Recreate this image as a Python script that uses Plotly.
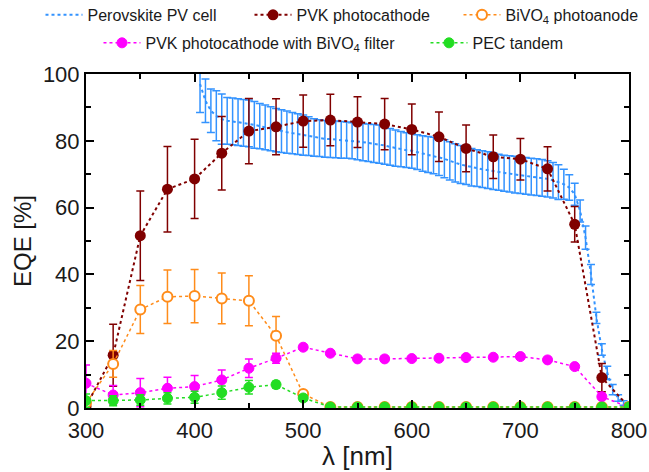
import plotly.graph_objects as go

# ---------------- data ----------------
wl_pv = list(range(405, 805, 5))
eqe_pv = [97, 92, 89, 87.5, 86.5, 86, 85.8, 85.6, 85.4, 85.2,
          84.8, 84.4, 84, 83.6, 83.2, 82.9, 82.6, 82.3, 82, 81.7,
          81.4, 81, 80.8, 80.6, 80.5, 80.4, 80.3, 80.2, 80, 79.8,
          79.6, 79.4, 79.2, 79, 78.6, 78.2, 77.8, 77.5, 77.2, 77,
          76.6, 76.2, 75.9, 75.6, 75.2, 74.6, 74, 73.4, 72.9, 72.5,
          72.1, 71.8, 71.5, 71.2, 70.9, 70.6, 70.3, 70.1, 69.9, 69.7,
          69.5, 69.3, 69.1, 68.9, 68.6, 68.2, 67.6, 67, 66, 64,
          59, 51, 40, 27, 17.5, 10.5, 5.5, 3, 1.5, 0.5]
err_pv = [8.5, 6.5, 6.5, 7.5, 7.5, 7, 7, 7, 7, 7,
          7, 6.8, 6.7, 6.6, 6.5, 6.4, 6.3, 6.2, 6.1, 6,
          5.8, 5.6, 5.5, 5.5, 5.5, 5.5, 5.5, 5.4, 5.4, 5.5,
          5.6, 5.6, 5.7, 5.7, 5.6, 5.5, 5.4, 5.3, 5.2, 5.2,
          5.2, 5.3, 5.4, 5.5, 5.6, 5.7, 5.7, 5.7, 5.7, 5.6,
          5.6, 5.5, 5.5, 5.5, 5.5, 5.4, 5.4, 5.4, 5.5, 5.5,
          5.5, 5.5, 5.5, 5.5, 5.4, 5.3, 5.2, 4.5, 3.8, 3.3,
          3.3, 3.5, 3, 1.7, 1.7, 2, 1.5, 1, 0.7, 0.5]
assert len(wl_pv) == len(eqe_pv) == len(err_pv)

wl = list(range(300, 825, 25))
pvk = [0.5, 15.8, 51.6, 65.5, 68.6, 76.3, 82.9, 84.2, 85.9, 86.2, 85.6,
       85.0, 83.4, 81.2, 77.7, 75.2, 74.5, 71.6, 55.0, 9.1, 0.3]
pvk_err = [0, 9.3, 13.4, 12.8, 11.9, 11.0, 9.8, 8.4, 7.8, 7.7, 7.6,
           7.7, 7.6, 7.4, 7.0, 6.5, 6.2, 6.6, 5.3, 4.2, 0]
bivo = [1.5, 13.2, 29.5, 33.3, 33.5, 32.8, 32.1, 21.6, 4.2, 0.3, 0.3,
        0.3, 0.3, 0.3, 0.3, 0.3, 0.3, 0.3, 0.3, 0.3, 0.3]
bivo_err = [0, 4, 7.2, 8, 8, 7.6, 7.5, 5.8, 1, 0, 0,
            0, 0, 0, 0, 0, 0, 0, 0, 0, 0]
filt = [7.4, 3.9, 4.6, 5.9, 6.4, 8.4, 11.9, 14.9, 18.2, 16.4, 14.7,
        14.7, 14.8, 14.9, 15.1, 15.2, 15.4, 14.4, 12.4, 3.4, 0.2]
filt_err = [5.5, 2.8, 4.2, 3.3, 3.3, 3.0, 2.8, 1.5, 0.8, 0.6, 0.5,
            0.5, 0.5, 0.5, 0.5, 0.5, 0.5, 0.5, 0.5, 0.8, 0]
tandem = [2.2, 2.2, 2.4, 2.9, 3.2, 4.6, 6.2, 7.0, 3.0, 0.3, 0.3,
          0.3, 0.3, 0.3, 0.3, 0.3, 0.3, 0.3, 0.3, 0.3, 0.3]
tandem_err = [2, 1.5, 1.6, 1.7, 1.8, 2, 2, 1, 1, 0, 0,
              0, 0, 0, 0, 0, 0, 0, 0, 0, 0]

names = ["Perovskite PV cell", "PVK photocathode", "BiVO<sub>4</sub> photoanode",
         "PVK photocathode with BiVO<sub>4</sub> filter", "PEC tandem"]

BLUE = "#3393FF"
DRED = "#800000"
ORANGE = "#FF8C1A"
MAG = "#FF00FF"
GREEN = "#22DD22"
FONT = "Liberation Sans, Arial, sans-serif"
TXT = "#1a1a1a"

fig = go.Figure()

fig.add_trace(go.Scatter(
    x=wl_pv, y=eqe_pv, name=names[0], mode="lines",
    line=dict(color=BLUE, width=2, dash="dot"),
    error_y=dict(type="data", array=err_pv, color=BLUE, thickness=1.5, width=4),
    legend="legend", legendwidth=157))

fig.add_trace(go.Scatter(
    x=wl, y=pvk, name=names[1], mode="lines+markers",
    line=dict(color=DRED, width=2, dash="dot"),
    marker=dict(color=DRED, size=11, symbol="circle"),
    error_y=dict(type="data", array=pvk_err, color=DRED, thickness=1.5, width=4),
    legend="legend", legendwidth=157))

fig.add_trace(go.Scatter(
    x=wl, y=bivo, name=names[2], mode="lines+markers",
    line=dict(color=ORANGE, width=1.5, dash="dot"),
    marker=dict(color="white", size=10, symbol="circle",
                line=dict(color=ORANGE, width=2)),
    error_y=dict(type="data", array=bivo_err, color=ORANGE, thickness=1.5, width=4),
    legend="legend"))

fig.add_trace(go.Scatter(
    x=wl, y=filt, name=names[3], mode="lines+markers",
    line=dict(color=MAG, width=1.5, dash="dot"),
    marker=dict(color=MAG, size=10, symbol="circle",
                line=dict(color=MAG, width=1)),
    error_y=dict(type="data", array=filt_err, color=MAG, thickness=1.5, width=4),
    legend="legend2", legendwidth=275))

fig.add_trace(go.Scatter(
    x=wl, y=tandem, name=names[4], mode="lines+markers",
    line=dict(color=GREEN, width=1.5, dash="dot"),
    marker=dict(color=GREEN, size=10, symbol="circle",
                line=dict(color=GREEN, width=1)),
    error_y=dict(type="data", array=tandem_err, color=GREEN, thickness=1.5, width=4),
    legend="legend2"))

axis_common = dict(
    showline=True, linecolor="black", linewidth=2, mirror="allticks",
    ticks="inside", ticklen=8, tickwidth=2, tickcolor="black",
    showgrid=False, zeroline=False,
    tickfont=dict(family=FONT, size=22, color=TXT),
)

legend_common = dict(orientation="h", xanchor="left", yanchor="middle",
                     font=dict(family=FONT, size=16, color=TXT),
                     bgcolor="rgba(0,0,0,0)", itemwidth=37, tracegroupgap=0,
                     borderwidth=0)

fig.update_layout(
    width=649, height=472,
    margin=dict(l=86, r=20, t=74, b=64, autoexpand=False),
    paper_bgcolor="white", plot_bgcolor="white",
    font=dict(family=FONT, color=TXT),
    xaxis=dict(range=[300, 800], dtick=100, tick0=300,
               minor=dict(dtick=50, ticks="inside", ticklen=5, tickwidth=2, tickcolor="black"),
               title=dict(text="λ [nm]", font=dict(family=FONT, size=26, color=TXT), standoff=4),
               ticklabelstandoff=2,
               **axis_common),
    yaxis=dict(range=[0, 100], dtick=20, tick0=0,
               minor=dict(dtick=10, ticks="inside", ticklen=5, tickwidth=2, tickcolor="black"),
               title=dict(text="EQE [%]", font=dict(family=FONT, size=24, color=TXT), standoff=4),
               **axis_common),
    legend=dict(x=-0.0838, y=1.177, **legend_common),
    legend2=dict(x=0.023, y=1.093, **legend_common),
    showlegend=True,
)

fig.write_html("out.html",
               config={"displayModeBar": False},
               post_script="document.body.style.margin='0';document.body.style.overflow='hidden';")
